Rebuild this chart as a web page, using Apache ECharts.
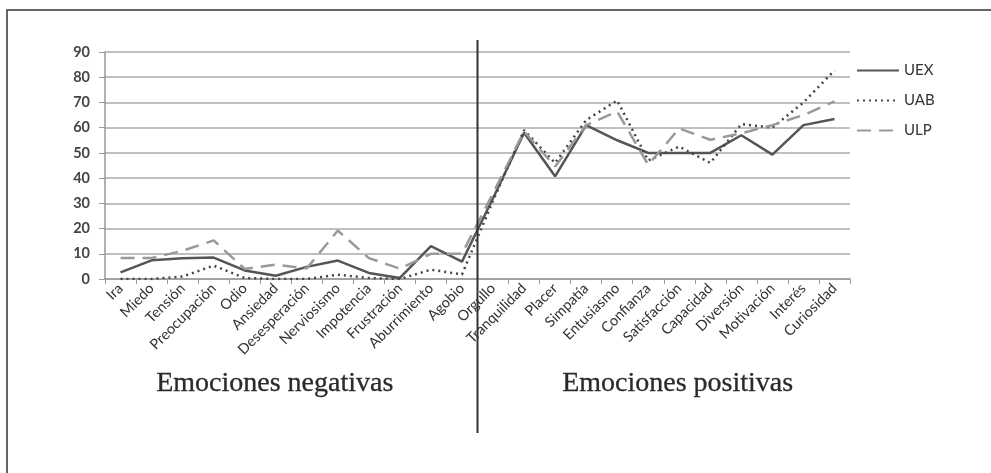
<!DOCTYPE html>
<html>
<head>
<meta charset="utf-8">
<script src="https://cdn.jsdelivr.net/npm/echarts@6/dist/echarts.min.js"></script>
<style>
html,body{margin:0;padding:0;background:#fff;}
#c{width:991px;height:473px;}
</style>
</head>
<body>
<div id="c"></div>
<script>
var categories = ['Ira','Miedo','Tensión','Preocupación','Odio','Ansiedad','Desesperación','Nerviosismo','Impotencia','Frustración','Aburrimiento','Agobio','Orgullo','Tranquilidad','Placer','Simpatía','Entusiasmo','Confianza','Satisfacción','Capacidad','Diversión','Motivación','Interés','Curiosidad'];
var UEX = [2.6,7.4,8.2,8.5,3.4,1.3,4.8,7.3,2.4,0.4,13,6.9,32,58,40.7,61,55,50,50,50,57,49.3,61,63.4];
var UAB = [0,0,1,5.3,0.4,0,0,1.7,0.4,0,3.7,1.8,31,59,46,63,70.8,47,52.5,46,61.4,60,70,82.7];
var ULP = [8.3,8.3,11.2,15.3,4,5.7,4.2,19.2,8.3,4.1,10,10,34,58.5,44.6,61,66.4,45.3,59.7,55.2,57.8,61,65,70.4];
var groupLabels = ['Emociones negativas','Emociones positivas'];
var lastNegative = 'Agobio';
var firstPositive = 'Orgullo';

var chart = echarts.init(document.getElementById('c'));
var option = {
  backgroundColor: '#fff',
  animation: false,
  grid: {left: 105, right: 141, top: 52, bottom: 194},
  legend: {
    orient: 'vertical', left: 851, top: 58, itemWidth: 42, itemHeight: 14, itemGap: 15,
    itemStyle: {opacity: 0},
    textStyle: {fontFamily: 'Lato', fontSize: 15, color: '#333'},
    data: ['UEX','UAB','ULP']
  },
  xAxis: {
    type: 'category', data: categories, boundaryGap: true,
    axisLine: {lineStyle: {color: '#999', width: 1.5}},
    axisTick: {show: true, length: 5, lineStyle: {color: '#999', width: 1}},
    axisLabel: {rotate: 45, interval: 0, fontFamily: 'Lato', fontSize: 14.5, color: '#333', margin: 7}
  },
  yAxis: {
    type: 'value', min: 0, max: 90, interval: 10,
    axisLine: {show: true, lineStyle: {color: '#999', width: 1.5}},
    axisTick: {show: true, length: 6, lineStyle: {color: '#999', width: 1}},
    splitLine: {lineStyle: {color: '#aaa', width: 1.5}},
    axisLabel: {fontFamily: 'Lato', fontWeight: 'bold', fontSize: 14.5, color: '#444', margin: 15}
  },
  series: [
    {name: 'UEX', type: 'line', data: UEX, symbol: 'none', lineStyle: {color: '#555', width: 2.5}, itemStyle: {color: '#555'}},
    {name: 'UAB', type: 'line', data: UAB, symbol: 'none', lineStyle: {color: '#444', width: 2.5, type: [2, 4]}, itemStyle: {color: '#444'}},
    {name: 'ULP', type: 'line', data: ULP, symbol: 'none', lineStyle: {color: '#999', width: 2.5, type: [14, 8]}, itemStyle: {color: '#999'}}
  ]
};
chart.setOption(option);

var xA = chart.convertToPixel({xAxisIndex: 0}, lastNegative);
var xB = chart.convertToPixel({xAxisIndex: 0}, firstPositive);
var xSep = (xA + xB) / 2;

chart.setOption({
  graphic: [
    {type: 'polyline', shape: {points: [[7, 473], [7, 10], [991, 10]]}, style: {stroke: '#333', lineWidth: 1.5, fill: null}, silent: true},
    {type: 'line', shape: {x1: xSep, y1: 40, x2: xSep, y2: 433}, style: {stroke: '#333', lineWidth: 2}, z: 100},
    {type: 'text', left: 156, top: 369, style: {text: groupLabels[0], fontFamily: 'Liberation Serif', fontSize: 28, fill: '#2a2a2a', stroke: '#2a2a2a', lineWidth: 0.3}},
    {type: 'text', left: 562, top: 369, style: {text: groupLabels[1], fontFamily: 'Liberation Serif', fontSize: 28, fill: '#2a2a2a', stroke: '#2a2a2a', lineWidth: 0.3}}
  ]
});
</script>
</body>
</html>
